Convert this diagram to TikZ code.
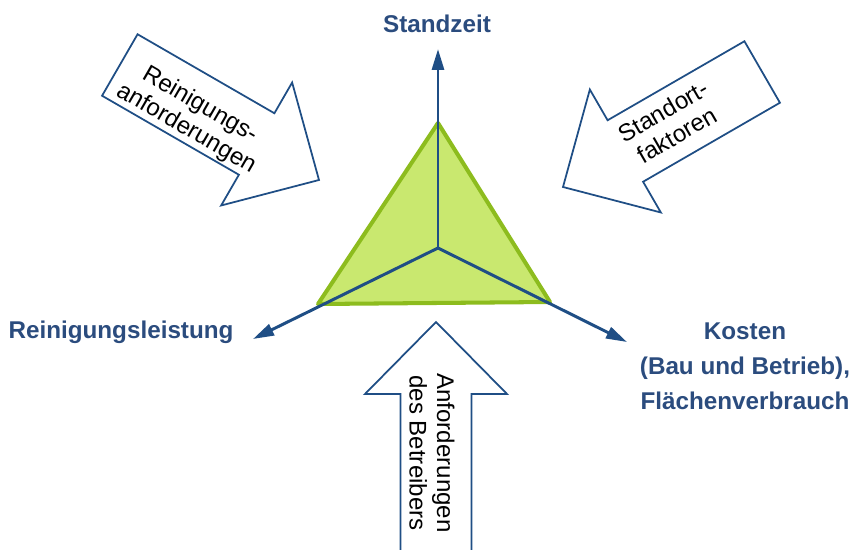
\documentclass[tikz,border=0pt]{standalone}
\usepackage{fontspec}
\setmainfont{Liberation Sans}
\usetikzlibrary{arrows.meta}
\definecolor{axisblue}{HTML}{1F4E85}
\definecolor{labelblue}{HTML}{2B4C7E}
\definecolor{areagreen}{HTML}{C9E86F}
\definecolor{edgegreen}{HTML}{8DBC1E}
\tikzset{
	axis/.style={axisblue, line width=1.7pt, -{Triangle[length=0.42cm,width=0.24cm]}},
	goal/.style={font=\bfseries\fontsize{13.8}{20}\selectfont, text=labelblue, align=center},
	influence/.style={axisblue, line width=1pt, fill=white, line join=miter},
	influencetext/.style={font=\fontsize{13.7}{15.6}\selectfont, align=center}
}
% block arrow, tip at #1, pointing to angle #2
\newcommand{\bigarrow}[2]{%
	\draw[influence, shift={#1}, rotate=#2] (0,0) -- (-72,71) -- (-72,35.5) -- (-230,35.5)
		-- (-230,-35.5) -- (-72,-35.5) -- (-72,-71) -- cycle;}
\begin{document}
\begin{tikzpicture}[x=0.02cm, y=0.02cm]
	\useasboundingbox (0,0) rectangle (850,549);
	% Influences
	\bigarrow{(319,369)}{-30}
	\bigarrow{(563,362)}{210}
	\bigarrow{(436,227)}{90}
	\node[influencetext, rotate=-30] (reinigung) at (193,432) {Reinigungs-\\anforderungen};
	\node[influencetext, rotate=30] (standort) at (670,426) {Standort-\\faktoren};
	\node[influencetext, rotate=-90] (betreiber) at (432,96) {Anforderungen\\des Betreibers};
	% Triangle
	\coordinate (O) at (438,301);
	\coordinate (T) at (438,426);
	\coordinate (L) at (318,245);
	\coordinate (R) at (550,247);
	\draw[edgegreen, line width=2.3pt, fill=areagreen, line join=round] (T) -- (L) -- (R) -- cycle;
	% Axes
	\coordinate (up) at (438,500);
	\coordinate (left) at (253,210);
	\coordinate (right) at (627,207);
	\draw[axis] (O) -- (up);
	\draw[axis] (O) -- (left);
	\draw[axis] (O) -- (right);
	% Goals
	\node[goal] (standzeit) at (437,525) {Standzeit};
	\node[goal] (leistung) at (121,217) {Reinigungsleistung};
	\node[goal] (kosten) at (745,183) {Kosten\\(Bau und Betrieb),\\Flächenverbrauch};
\end{tikzpicture}
\end{document}
